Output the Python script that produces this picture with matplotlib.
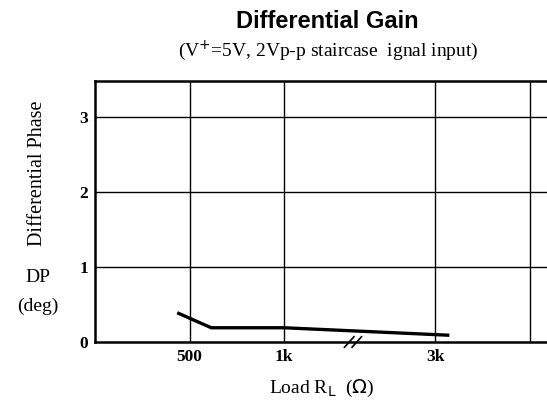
import numpy as np
import matplotlib
matplotlib.use("Agg")
import matplotlib.pyplot as plt

# x is drawn on a broken axis: positions in axis units
tick_pos = [1.0, 2.0, 3.6]
tick_labels = ['500', '1k', '3k']
extra_grid = [4.6]

# Differential phase curve
load_pos = [0.87, 1.23, 2.0, 3.75]
dp_deg = [0.39, 0.19, 0.19, 0.09]

serif = ['Liberation Serif', 'DejaVu Serif']

fig = plt.figure(figsize=(5.47, 4.01), dpi=100)
ax = fig.add_axes([95/547, 1 - 342/401, 1 - 95/547, (342 - 81)/401])

ax.plot(load_pos, dp_deg, color='black', lw=2.4, solid_capstyle='butt')

ax.set_xlim(0, (547 - 95)/94.5)
ax.set_ylim(0, 3.48)
ax.set_xticks(tick_pos)
ax.set_xticklabels(tick_labels, family=serif, fontsize=12.5, fontweight='bold')
ax.set_yticks([0, 1, 2, 3])
ax.set_yticklabels(['0', '1', '2', '3'], family=serif, fontsize=12.5, fontweight='bold')
ax.tick_params(axis='y', length=0, pad=5)
ax.tick_params(axis='x', length=0, pad=5)

for y in [1, 2, 3]:
    ax.axhline(y, color='black', lw=1.0)
for x in tick_pos + extra_grid:
    ax.axvline(x, color='black', lw=1.0)

ax.spines['right'].set_visible(False)
for s in ['left', 'bottom', 'top']:
    ax.spines[s].set_linewidth(1.8)

# axis break mark
bx = 2.73
for dx in (-0.04, 0.04):
    ax.plot([bx + dx - 0.05, bx + dx + 0.05], [-0.07, 0.07], color='black',
            lw=1.2, clip_on=False)

fig.text(327/547, 1 - 21/401, 'Differential Gain', ha='center', va='center',
         family=['Liberation Sans', 'DejaVu Sans'], fontsize=17, fontweight='bold')
fig.text(328/547, 1 - 51/401, r'(V$^{+}$=5V, 2Vp-p staircase  ignal input)',
         ha='center', va='center', family=serif, fontsize=14)

fig.text(38/547, 1 - 173/401, 'Differential Phase', rotation=90, ha='center',
         va='center', family=serif, fontsize=14.5)
fig.text(38/547, 1 - 277/401, 'DP', ha='center', va='center', family=serif, fontsize=14)
fig.text(38/547, 1 - 306/401, '(deg)', ha='center', va='center', family=serif, fontsize=14)
fig.text(322/547, 1 - 388/401, r'Load R$_{\mathrm{L}}$  ($\Omega$)', ha='center', va='center',
         family=serif, fontsize=14)

fig.savefig('out.png', dpi=100)
